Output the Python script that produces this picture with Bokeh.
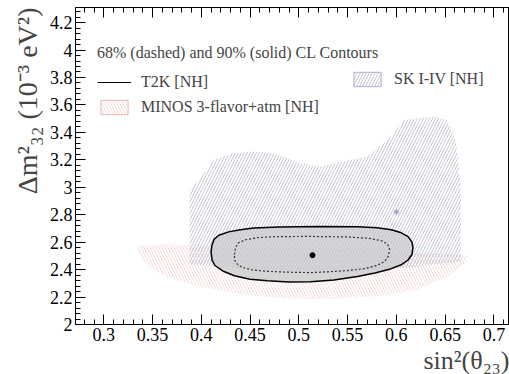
from bokeh.plotting import figure
from bokeh.models import (Range1d, LinearAxis, SingleIntervalTicker, CustomJSTickFormatter,
                          Legend, LegendItem, Title)
from bokeh.embed import file_html
from bokeh.resources import INLINE

# ---- data ----
t2k90_x = [0.410, 0.411, 0.413, 0.418, 0.428, 0.440, 0.454, 0.480, 0.520, 0.560, 0.580, 0.595, 0.605,
           0.612, 0.616, 0.617, 0.616, 0.612, 0.605, 0.594, 0.578, 0.560, 0.536, 0.512, 0.490, 0.468,
           0.450, 0.434, 0.422, 0.414, 0.411]
t2k90_y = [2.530, 2.580, 2.620, 2.650, 2.675, 2.690, 2.703, 2.711, 2.715, 2.712, 2.705, 2.690, 2.668,
           2.640, 2.600, 2.560, 2.510, 2.470, 2.435, 2.405, 2.375, 2.350, 2.325, 2.312, 2.310, 2.318,
           2.330, 2.355, 2.390, 2.430, 2.470]
t2k68_x = [0.434, 0.435, 0.438, 0.445, 0.457, 0.475, 0.510, 0.550, 0.572, 0.585, 0.591, 0.593, 0.592,
           0.588, 0.580, 0.568, 0.550, 0.530, 0.512, 0.490, 0.468, 0.452, 0.442, 0.437, 0.434]
t2k68_y = [2.510, 2.560, 2.595, 2.617, 2.632, 2.640, 2.642, 2.638, 2.628, 2.610, 2.585, 2.550, 2.500,
           2.460, 2.430, 2.408, 2.393, 2.384, 2.378, 2.381, 2.387, 2.398, 2.415, 2.440, 2.470]
t2k_best_x = [0.514]
t2k_best_y = [2.505]

sk_x = [0.388, 0.388, 0.396, 0.413, 0.433, 0.454, 0.474, 0.502, 0.522, 0.553, 0.570, 0.591, 0.608, 0.639,
        0.652, 0.661, 0.666, 0.666, 0.620, 0.550, 0.500, 0.450]
sk_y = [2.440, 2.980, 3.040, 3.200, 3.248, 3.260, 3.250, 3.175, 3.150, 3.200, 3.223, 3.345, 3.490, 3.515,
        3.490, 3.345, 3.000, 2.460, 2.420, 2.380, 2.380, 2.400]
sk_best_x = [0.600]
sk_best_y = [2.820]

minos_x = [0.335, 0.360, 0.390, 0.500, 0.620, 0.673, 0.670, 0.652, 0.622, 0.587, 0.536, 0.502, 0.451,
           0.399, 0.365, 0.345, 0.336]
minos_y = [2.575, 2.585, 2.580, 2.560, 2.530, 2.502, 2.440, 2.344, 2.259, 2.210, 2.186, 2.186, 2.210,
           2.271, 2.344, 2.430, 2.513]

legend_title = "68% (dashed) and 90% (solid) CL Contours"
label_t2k = "T2K [NH]"
label_sk = "SK I-IV [NH]"
label_minos = "MINOS 3-flavor+atm [NH]"
x_label = "sin\u00b2(\u03b8\u2082\u2083)"
y_label = "\u0394m\u00b2\u2083\u2082 (10\u207b\u00b3 eV\u00b2)"

FONT = "Liberation Serif"
SK_COL = "#c6c6d2"
MINOS_COL = "#f2dcdc"

p = figure(width=509, height=374, output_backend="svg", toolbar_location=None,
           x_range=Range1d(0.271, 0.716), y_range=Range1d(2.0, 4.31),
           min_border_left=75, min_border_right=0, min_border_top=7, min_border_bottom=50,
           x_axis_location=None, y_axis_location=None)
p.xgrid.visible = False
p.ygrid.visible = False
p.outline_line_color = "black"
p.outline_line_width = 1
p.background_fill_color = "white"
p.border_fill_color = "white"

fmt = CustomJSTickFormatter(code="return String(parseFloat(tick.toFixed(3)));")

def style_axis(ax, labels=True):
    ax.major_tick_in = 10
    ax.major_tick_out = 0
    ax.minor_tick_in = 5
    ax.minor_tick_out = 0
    ax.axis_line_color = "black"
    ax.major_tick_line_color = "black"
    ax.minor_tick_line_color = "black"
    ax.major_label_text_font = FONT
    ax.major_label_text_font_size = "18px"
    ax.major_label_text_color = "black"
    if not labels:
        ax.major_label_text_font_size = "0px"
        ax.major_label_text_alpha = 0

xb = LinearAxis(ticker=SingleIntervalTicker(interval=0.05, num_minor_ticks=5), formatter=fmt)
style_axis(xb)
xb.major_label_standoff = 3
p.add_layout(xb, "below")

xt = LinearAxis(ticker=SingleIntervalTicker(interval=0.05, num_minor_ticks=5), formatter=fmt)
style_axis(xt, labels=False)
p.add_layout(xt, "above")

yl = LinearAxis(ticker=SingleIntervalTicker(interval=0.2, num_minor_ticks=5), formatter=fmt)
style_axis(yl)
yl.major_label_standoff = 3
p.add_layout(yl, "left")

HS = 6
# regions
p.patch(minos_x, minos_y, fill_color=None, line_color=None,
        hatch_pattern="\\", hatch_color=MINOS_COL, hatch_scale=HS, hatch_weight=1)
p.patch(t2k90_x, t2k90_y, fill_color="#c8c8c8", fill_alpha=0.7, line_color=None)
p.patch(sk_x, sk_y, fill_color=None, line_color=None,
        hatch_pattern="/", hatch_color=SK_COL, hatch_scale=HS, hatch_weight=1)
p.scatter(sk_best_x, sk_best_y, marker="asterisk", size=6, line_color="#9a9ac4", line_width=1)

# T2K contours
p.patch(t2k90_x, t2k90_y, fill_color=None, line_color="black", line_width=1.5)
p.patch(t2k68_x, t2k68_y, fill_color=None, line_color="#333333", line_width=1.2, line_dash="2 2")
p.scatter(t2k_best_x, t2k_best_y, marker="circle", size=5, fill_color="black", line_color="black")

# legend glyph renderers (off-range dummy data, only used for the legend swatches)
dummy_x = [0.0, 0.0, 0.0]
dummy_y = [0.0, 0.0, 0.0]
r_t2k = p.line(dummy_x, dummy_y, line_color="black", line_width=1.2)
r_sk = p.patch(dummy_x, dummy_y, fill_color=None, line_color="#b0b0d0", line_width=1,
               hatch_pattern="/", hatch_color=SK_COL, hatch_scale=HS, hatch_weight=1)
r_minos = p.patch(dummy_x, dummy_y, fill_color=None, line_color="#e4baba", line_width=1,
                  hatch_pattern="\\", hatch_color=MINOS_COL, hatch_scale=HS, hatch_weight=1)

def mk_legend(items, loc, title=None):
    lg = Legend(items=items, location=loc)
    if title:
        lg.title = title
        lg.title_text_font = FONT
        lg.title_text_font_size = "16px"
        lg.title_text_font_style = "normal"
        lg.title_standoff = 11
    lg.label_text_font = FONT
    lg.label_text_font_size = "16px"
    lg.glyph_width = 34
    lg.glyph_height = 18
    lg.label_height = 18
    lg.label_standoff = 10
    lg.spacing = 7
    lg.padding = 0
    lg.margin = 0
    lg.border_line_color = None
    lg.background_fill_alpha = 0
    return lg

p.add_layout(mk_legend([LegendItem(label=label_t2k, renderers=[r_t2k]),
                        LegendItem(label=label_minos, renderers=[r_minos])],
                       (22, 208), title=legend_title))
p.add_layout(mk_legend([LegendItem(label=label_sk, renderers=[r_sk])], (275, 236)))

# axis titles, right/top aligned as in ROOT
p.add_layout(Title(text=x_label, align="right", text_font=FONT, text_font_size="26px",
                   text_font_style="normal", standoff=0, text_line_height=0.8), "below")
p.add_layout(Title(text=y_label, align="right", text_font=FONT, text_font_size="28px",
                   text_font_style="normal", standoff=8), "left")

open("out.html", "w").write(file_html(p, INLINE))
